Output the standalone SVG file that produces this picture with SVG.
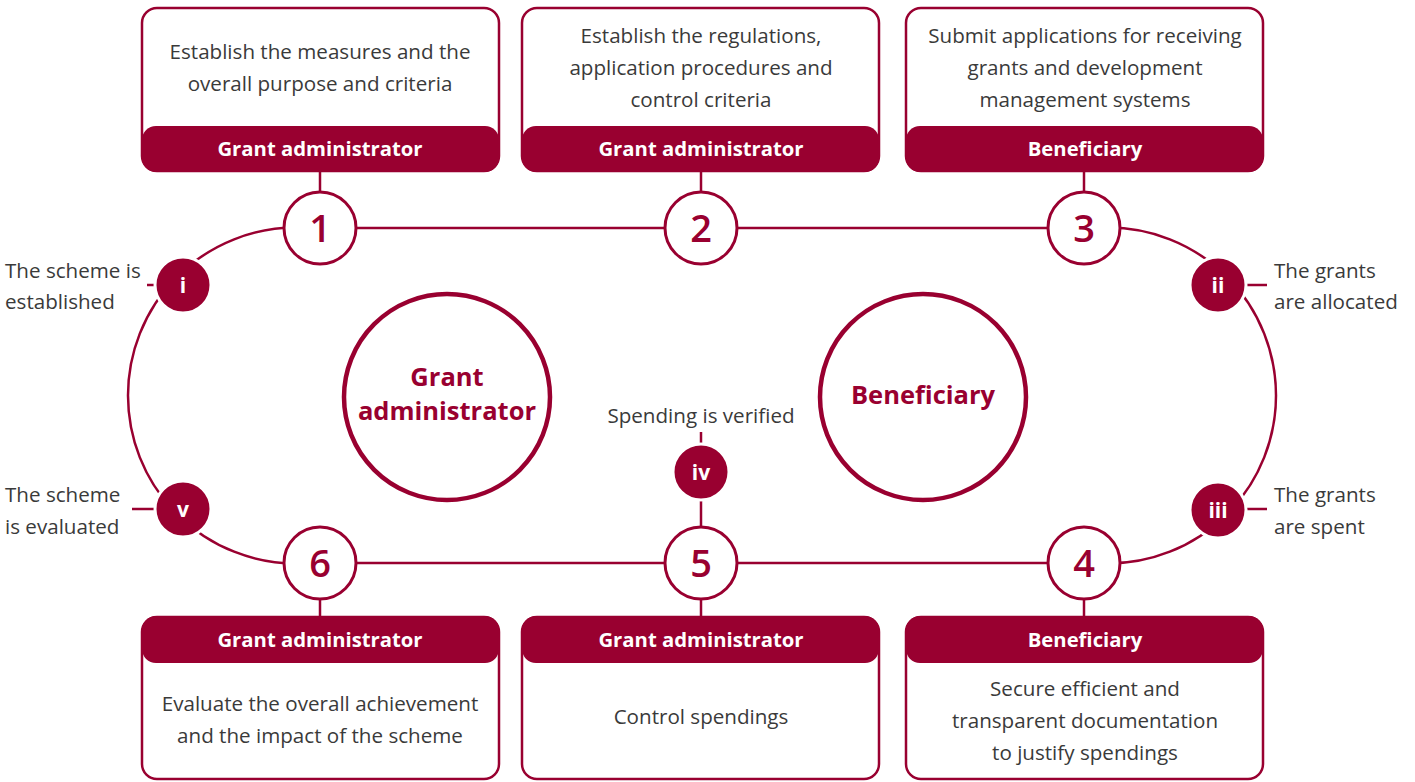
<svg xmlns="http://www.w3.org/2000/svg" width="1415" height="782" viewBox="0 0 1415 782">
<style>
.box{fill:#fff;stroke:#990030;stroke-width:2.5}
.band{fill:#990030}
.ln{fill:none;stroke:#990030;stroke-width:2.5}
.num{fill:#fff;stroke:#990030;stroke-width:3}
.dot{fill:#990030;stroke:#fff;stroke-width:3}
.big{fill:#fff;stroke:#990030;stroke-width:4.5}
.t{font-family:"Open Sans","Noto Sans",sans-serif;font-size:20.6px;fill:#3a3a3a}
.c{text-anchor:middle}
.h{font-family:"Open Sans","Noto Sans",sans-serif;font-size:20.3px;font-weight:700;fill:#fff;text-anchor:middle}
.n{font-family:"Open Sans","Noto Sans",sans-serif;font-size:38px;font-weight:600;fill:#990030;text-anchor:middle}
.r{font-family:"Open Sans","Noto Sans",sans-serif;font-size:21px;font-weight:700;fill:#fff;text-anchor:middle}
.bt{font-family:"Open Sans","Noto Sans",sans-serif;font-size:25.5px;font-weight:700;fill:#990030;text-anchor:middle}
</style>
<g id="connectors">
<line class="ln" x1="320" y1="228" x2="1084" y2="228"/>
<line class="ln" x1="320" y1="563" x2="1084" y2="563"/>
<path class="ln" d="M 296 227.5 A 168 168 0 0 0 296 563.5"/>
<path class="ln" d="M 1108 227.5 A 168 168 0 0 1 1108 563.5"/>
<line class="ln" x1="320" y1="171" x2="320" y2="192"/>
<line class="ln" x1="701" y1="171" x2="701" y2="192"/>
<line class="ln" x1="1084" y1="171" x2="1084" y2="192"/>
<line class="ln" x1="320" y1="600" x2="320" y2="617"/>
<line class="ln" x1="701" y1="600" x2="701" y2="617"/>
<line class="ln" x1="1084" y1="600" x2="1084" y2="617"/>
<line class="ln" x1="701" y1="432" x2="701" y2="443"/>
<line class="ln" x1="701" y1="500" x2="701" y2="527"/>
<line class="ln" x1="147" y1="285" x2="158" y2="285"/>
<line class="ln" x1="132" y1="509" x2="157" y2="509"/>
<line class="ln" x1="1246" y1="285" x2="1267" y2="285"/>
<line class="ln" x1="1246" y1="509" x2="1267" y2="509"/>
</g>
<g id="box1">
<rect class="box" x="142" y="8" width="357" height="163" rx="15"/>
<rect class="band" x="142" y="126" width="357" height="46" rx="14"/>
<text class="t c" x="320" y="59">Establish the measures and the</text>
<text class="t c" x="320" y="91">overall purpose and criteria</text>
<text class="h" x="320" y="156">Grant administrator</text>
</g>
<g id="box2">
<rect class="box" x="522" y="8" width="357" height="163" rx="15"/>
<rect class="band" x="522" y="126" width="357" height="46" rx="14"/>
<text class="t c" x="701" y="43">Establish the regulations,</text>
<text class="t c" x="701" y="75">application procedures and</text>
<text class="t c" x="701" y="107">control criteria</text>
<text class="h" x="701" y="156">Grant administrator</text>
</g>
<g id="box3">
<rect class="box" x="906" y="8" width="357" height="163" rx="15"/>
<rect class="band" x="906" y="126" width="357" height="46" rx="14"/>
<text class="t c" x="1085" y="43">Submit applications for receiving</text>
<text class="t c" x="1085" y="75">grants and development</text>
<text class="t c" x="1085" y="107">management systems</text>
<text class="h" x="1085" y="156">Beneficiary</text>
</g>
<g id="box6">
<rect class="box" x="142" y="617" width="357" height="162" rx="15"/>
<rect class="band" x="142" y="616" width="357" height="47" rx="14"/>
<text class="h" x="320" y="647">Grant administrator</text>
<text class="t c" x="320" y="711">Evaluate the overall achievement</text>
<text class="t c" x="320" y="743">and the impact of the scheme</text>
</g>
<g id="box5">
<rect class="box" x="522" y="617" width="357" height="162" rx="15"/>
<rect class="band" x="522" y="616" width="357" height="47" rx="14"/>
<text class="h" x="701" y="647">Grant administrator</text>
<text class="t c" x="701" y="724">Control spendings</text>
</g>
<g id="box4">
<rect class="box" x="906" y="617" width="357" height="162" rx="15"/>
<rect class="band" x="906" y="616" width="357" height="47" rx="14"/>
<text class="h" x="1085" y="647">Beneficiary</text>
<text class="t c" x="1085" y="696">Secure efficient and</text>
<text class="t c" x="1085" y="728">transparent documentation</text>
<text class="t c" x="1085" y="760">to justify spendings</text>
</g>
<g id="n1"><circle class="num" cx="320" cy="228" r="36"/><text class="n" x="320" y="242">1</text></g>
<g id="n2"><circle class="num" cx="701" cy="228" r="36"/><text class="n" x="701" y="242">2</text></g>
<g id="n3"><circle class="num" cx="1084" cy="228" r="36"/><text class="n" x="1084" y="242">3</text></g>
<g id="n6"><circle class="num" cx="320" cy="563" r="36"/><text class="n" x="320" y="577">6</text></g>
<g id="n5"><circle class="num" cx="701" cy="563" r="36"/><text class="n" x="701" y="577">5</text></g>
<g id="n4"><circle class="num" cx="1084" cy="563" r="36"/><text class="n" x="1084" y="577">4</text></g>
<g id="ri"><circle class="dot" cx="183" cy="285" r="28"/><text class="r" x="183" y="293">i</text>
<text class="t" x="5" y="278">The scheme is</text><text class="t" x="5" y="309">established</text></g>
<g id="rii"><circle class="dot" cx="1218" cy="285" r="28"/><text class="r" x="1218" y="293">ii</text>
<text class="t" x="1274" y="278">The grants</text><text class="t" x="1274" y="309">are allocated</text></g>
<g id="riii"><circle class="dot" cx="1218" cy="510" r="28"/><text class="r" x="1218" y="518">iii</text>
<text class="t" x="1274" y="502">The grants</text><text class="t" x="1274" y="534">are spent</text></g>
<g id="rv"><circle class="dot" cx="183" cy="509" r="28"/><text class="r" x="183" y="517">v</text>
<text class="t" x="5" y="502">The scheme</text><text class="t" x="5" y="534">is evaluated</text></g>
<g id="riv"><circle class="dot" cx="701" cy="472" r="28"/><text class="r" x="701" y="480">iv</text>
<text class="t c" x="701" y="423">Spending is verified</text></g>
<g id="ga"><circle class="big" cx="447" cy="397" r="103"/><text class="bt" x="447" y="386">Grant</text><text class="bt" x="447" y="420">administrator</text></g>
<g id="be"><circle class="big" cx="923" cy="397" r="103"/><text class="bt" x="923" y="404">Beneficiary</text></g>
</svg>
